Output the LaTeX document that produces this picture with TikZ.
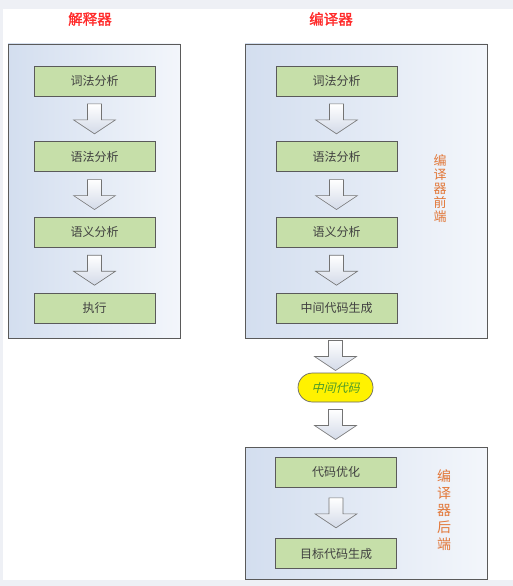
\documentclass[tikz,border=0pt]{standalone}
\usepackage{fontspec}
\newfontfamily\cjk{Noto Sans CJK SC}
\newfontfamily\cjkbf[FakeBold=1.6]{Noto Sans CJK SC}
\newfontfamily\cjkit[FakeSlant=0.25]{Noto Sans CJK SC}
\usetikzlibrary{positioning, calc, fit}
\definecolor{stagegreen}{HTML}{C6DFA9}
\definecolor{framegray}{HTML}{5A5A5A}
\definecolor{groupleft}{HTML}{D3DEEF}
\definecolor{groupright}{HTML}{F3F6FB}
\definecolor{titlered}{HTML}{FF2A2A}
\definecolor{sideorange}{HTML}{E2783A}
\definecolor{codegreen}{HTML}{4C9A2A}
\definecolor{pagegray}{HTML}{EEF0F5}
\definecolor{arrowblue}{HTML}{D3DAE8}

\begin{document}
\begin{tikzpicture}[x=1pt, y=-1pt,
  node distance=45pt,
  group/.style={rectangle, draw=framegray, line width=0.8pt, left color=groupleft,
    right color=groupright, inner sep=0pt},
  stage/.style={rectangle, draw=framegray, line width=0.7pt, fill=stagegreen,
    minimum width=121pt, minimum height=30pt, text=black!75,
    font=\cjk\fontsize{12}{14}\selectfont},
  title/.style={text=titlered, font=\cjkbf\fontsize{14.5}{16}\selectfont},
  side/.style={text=sideorange, align=center, inner sep=0pt},
  midcode/.style={rectangle, rounded corners=14.5pt, draw=black!60, line width=0.7pt,
    fill=yellow, minimum width=75pt, minimum height=29pt, text=codegreen,
    font=\cjkit\fontsize{12}{14}\selectfont},
  blockarr/.pic={\draw[draw=black!55, line width=0.6pt, top color=white, bottom color=arrowblue]
    (-7,-15) -- (7,-15) -- (7,1) -- (21,1) -- (0,15) -- (-21,1) -- (-7,1) -- cycle;}
]

\fill[pagegray] (0,0) rectangle (513,586);
\fill[white] (3,9) rectangle (513,580);

\node (interpT) [title] at (90,19) {解释器};
\node (compT) [title] at (331,19) {编译器};

\node (interp) [group, fit={(8,44) (180,338)}] {};
\node (front) [group, fit={(245,44) (487,338)}] {};
\node (back) [group, fit={(245,447) (487,579)}] {};

\node (lexA) [stage] at (94.5,81) {词法分析};
\node (synA) [stage, below=of lexA] {语法分析};
\node (semA) [stage, below=of synA] {语义分析};
\node (exec) [stage, below=of semA] {执行};

\node (lexB) [stage] at (336.5,81) {词法分析};
\node (synB) [stage, below=of lexB] {语法分析};
\node (semB) [stage, below=of synB] {语义分析};
\node (irgen) [stage, below=of semB] {中间代码生成};
\node (frontT) [side, font=\cjk\fontsize{13}{14}\selectfont] at (440,189) {编\\译\\器\\前\\端};

\node (ir) [midcode] at (335.5,387.5) {中间代码};

\node (opt) [stage] at (336,472) {代码优化};
\node (target) [stage, below=51pt of opt] {目标代码生成};
\node (backT) [side, font=\cjk\fontsize{14}{17}\selectfont] at (444,510) {编\\译\\器\\后\\端};

\path (lexA) -- pic[pos=.5]{blockarr} (synA);
\path (synA) -- pic[pos=.5]{blockarr} (semA);
\path (semA) -- pic[pos=.5]{blockarr} (exec);

\path (lexB) -- pic[pos=.5]{blockarr} (synB);
\path (synB) -- pic[pos=.5]{blockarr} (semB);
\path (semB) -- pic[pos=.5]{blockarr} (irgen);
\path (front.south -| ir) -- pic[pos=.5]{blockarr} (ir);
\path (ir) -- pic[pos=.5]{blockarr} (back.north -| ir);
\path (opt) -- pic[pos=.5]{blockarr} (target);

\end{tikzpicture}
\end{document}
